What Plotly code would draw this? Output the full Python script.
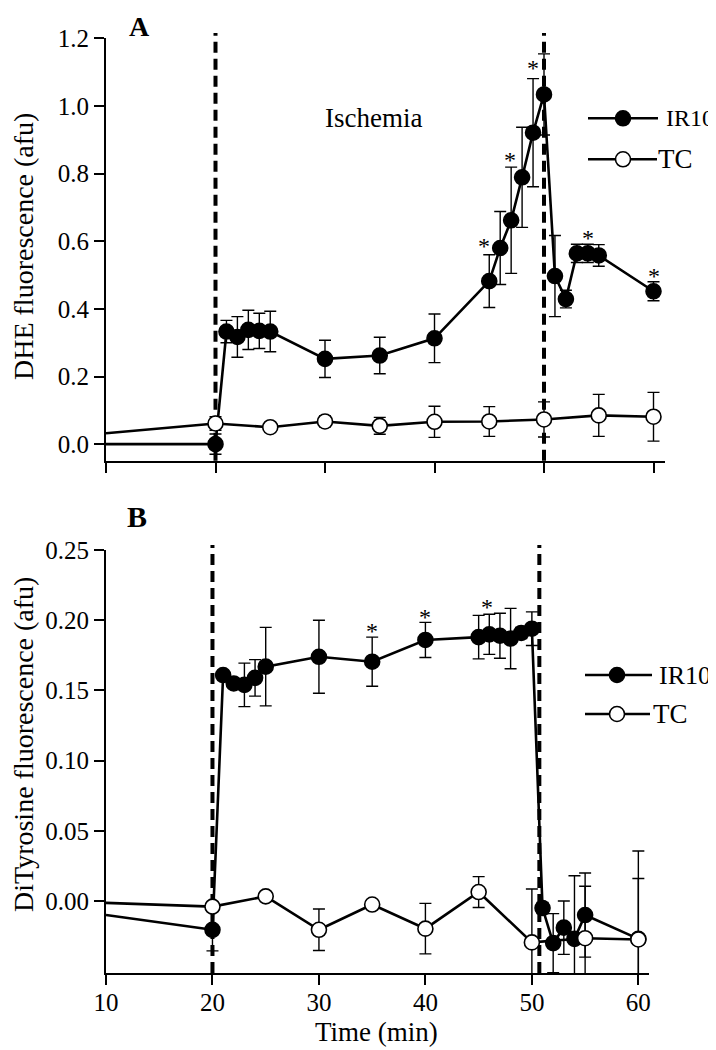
import plotly.graph_objects as go

# ---------------- data ----------------
# Panel A: DHE fluorescence
ir_a_x = [10, 20, 21, 22, 23, 24, 25, 30, 35, 40, 45, 46, 47, 48, 49, 50, 51, 52, 53, 54, 55, 60]
ir_a_y = [0.0, 0.0, 0.333, 0.317, 0.338, 0.335, 0.333, 0.252, 0.262, 0.313, 0.482, 0.580, 0.662,
          0.789, 0.921, 1.034, 0.497, 0.429, 0.564, 0.564, 0.558, 0.452]
ir_a_err = [0, 0.03, 0.033, 0.06, 0.058, 0.052, 0.06, 0.055, 0.054, 0.072, 0.078, 0.108, 0.157,
            0.148, 0.16, 0.12, 0.12, 0.026, 0.027, 0.027, 0.032, 0.028]
tc_a_x = [10, 20, 25, 30, 35, 40, 45, 50, 55, 60]
tc_a_y = [0.032, 0.061, 0.050, 0.067, 0.054, 0.066, 0.067, 0.073, 0.085, 0.081]
tc_a_err = [0, 0.02, 0.008, 0.016, 0.025, 0.046, 0.044, 0.052, 0.062, 0.072]
star_a_x = [44.5, 46.9, 49.0, 54.0, 60.0]
star_a_y = [0.598, 0.852, 1.124, 0.622, 0.509]
dash_a = [20, 50]

# Panel B: DiTyrosine fluorescence
ir_b_x = [10, 20, 21, 22, 23, 24, 25, 30, 35, 40, 45, 46, 47, 48, 49, 50, 51, 52, 53, 54, 55, 60]
ir_b_y = [-0.010, -0.0205, 0.161, 0.155, 0.154, 0.159, 0.167, 0.174, 0.1705, 0.186, 0.188, 0.190,
          0.189, 0.187, 0.191, 0.194, -0.005, -0.030, -0.019, -0.027, -0.010, -0.027]
ir_b_err = [0, 0.015, 0.003, 0.003, 0.0155, 0.013, 0.028, 0.026, 0.0175, 0.0125, 0.0155, 0.0143,
            0.016, 0.0215, 0.004, 0.012, 0.004, 0.021, 0.019, 0.045, 0.030, 0.043]
tc_b_x = [10, 20, 25, 30, 35, 40, 45, 50, 55, 60]
tc_b_y = [-0.0013, -0.004, 0.0033, -0.0205, -0.0025, -0.0197, 0.0064, -0.0295, -0.0265, -0.0274]
tc_b_err = [0, 0.003, 0.002, 0.0148, 0.002, 0.018, 0.011, 0.038, 0.037, 0.063]
star_b_x = [35, 40, 45.8]
star_b_y = [0.195, 0.205, 0.2123]
dash_b = [20, 50.7]

x_ticks = [10, 20, 30, 40, 50, 60]
ya_ticks = [0.0, 0.2, 0.4, 0.6, 0.8, 1.0, 1.2]
yb_ticks = [0.00, 0.05, 0.10, 0.15, 0.20, 0.25]

# ---------------- layout helpers ----------------
OFF = 8                      # page body margin
W, H = 716 - OFF, 1050 - OFF
FONT = "Liberation Serif, Times New Roman, Times, serif"


def px(x):
    return (x - OFF) / W


def py(y):
    return 1 - (y - OFF) / H


fig = go.Figure()

LW = 2.6
MS = 15
err_style = dict(type="data", thickness=1.4, width=6, color="black")


def add_series(xs, ys, errs, xa, ya, filled):
    # lead-in segment from the axis edge (no marker)
    fig.add_trace(go.Scatter(x=xs[:2], y=ys[:2], mode="lines", xaxis=xa, yaxis=ya,
                             line=dict(color="black", width=LW), showlegend=False,
                             hoverinfo="skip"))
    fig.add_trace(go.Scatter(
        x=xs[1:], y=ys[1:], mode="lines+markers", xaxis=xa, yaxis=ya,
        line=dict(color="black", width=LW),
        marker=dict(size=MS, color="black" if filled else "white",
                    line=dict(color="black", width=1.6)),
        error_y=dict(array=errs[1:], **err_style),
        showlegend=False, cliponaxis=False))


add_series(ir_a_x, ir_a_y, ir_a_err, "x", "y", True)
add_series(tc_a_x, tc_a_y, tc_a_err, "x", "y", False)
add_series(ir_b_x, ir_b_y, ir_b_err, "x2", "y2", True)
add_series(tc_b_x, tc_b_y, tc_b_err, "x2", "y2", False)

# plot areas (pixels in the page)
A_L, A_R, A_T, A_B = 106, 665, 38.3, 460.7
B_L, B_R, B_T, B_B = 106, 649, 550, 973

axis_common = dict(showline=True, linecolor="black", linewidth=2, ticks="outside",
                   ticklen=10, tickwidth=2, tickcolor="black", showgrid=False,
                   zeroline=False, automargin=False,
                   tickfont=dict(family=FONT, size=25, color="black"))

fig.update_layout(
    width=W, height=H, margin=dict(l=0, r=0, t=0, b=0),
    paper_bgcolor="white", plot_bgcolor="white",
    font=dict(family=FONT, color="black"),
    xaxis=dict(domain=[px(A_L), px(A_R)], range=[10, 61.05], anchor="y",
               tickvals=x_ticks, showticklabels=False, **axis_common),
    yaxis=dict(domain=[py(A_B), py(A_T)], range=[-0.049, 1.2001], anchor="x",
               tickvals=ya_ticks, ticktext=[f"{v:.1f}" for v in ya_ticks], **axis_common),
    xaxis2=dict(domain=[px(B_L), px(B_R)], range=[10, 61.0], anchor="y2",
                tickvals=x_ticks, ticktext=[str(v) for v in x_ticks],
                ticklabelstandoff=-4, **axis_common),
    yaxis2=dict(domain=[py(B_B), py(B_T)], range=[-0.0513, 0.2501], anchor="x2",
                tickvals=yb_ticks, ticktext=[f"{v:.2f}" for v in yb_ticks], **axis_common),
)

shapes = []
for xv in dash_a:
    shapes.append(dict(type="line", xref="x", yref="paper", x0=xv, x1=xv,
                       y0=py(A_B), y1=py(33), layer="below",
                       line=dict(color="black", width=4, dash="11px,6px")))
for xv in dash_b:
    shapes.append(dict(type="line", xref="x2", yref="paper", x0=xv, x1=xv,
                       y0=py(B_B), y1=py(545), layer="below",
                       line=dict(color="black", width=4, dash="11px,6px")))

annotations = []

# significance asterisks
for xs, ys, xr, yr in [(star_a_x, star_a_y, "x", "y"), (star_b_x, star_b_y, "x2", "y2")]:
    for xv, yv in zip(xs, ys):
        annotations.append(dict(xref=xr, yref=yr, x=xv, y=yv, text="*", showarrow=False,
                                xanchor="center", yanchor="middle", yshift=-4,
                                font=dict(family=FONT, size=24, color="black")))


def legend_item(x0, x1, xc, yc, filled, label, tx, size=27):
    shapes.append(dict(type="line", xref="paper", yref="paper", x0=px(x0), x1=px(x1),
                       y0=py(yc), y1=py(yc), line=dict(color="black", width=LW)))
    r = MS / 2
    shapes.append(dict(type="circle", xref="paper", yref="paper",
                       x0=px(xc - r), x1=px(xc + r), y0=py(yc + r), y1=py(yc - r),
                       fillcolor="black" if filled else "white",
                       line=dict(color="black", width=1.6)))
    annotations.append(dict(xref="paper", yref="paper", x=px(tx), y=py(yc), text=label,
                            showarrow=False, xanchor="left", yanchor="middle",
                            font=dict(family=FONT, size=size, color="black")))


legend_item(588, 658, 623, 118.3, True, "IR10", 664, size=24)
legend_item(588, 657, 623, 159.3, False, "TC", 656)
legend_item(585, 652, 617, 675, True, "IR10", 657, size=26)
legend_item(585, 650, 617, 714, False, "TC", 651)


def text(x, y, s, size, bold=False, angle=0):
    annotations.append(dict(xref="paper", yref="paper", x=px(x), y=py(y),
                            text=f"<b>{s}</b>" if bold else s, showarrow=False,
                            xanchor="center", yanchor="middle", textangle=angle,
                            borderpad=0,
                            font=dict(family=FONT, size=size, color="black")))


text(139, 26, "A", 28, bold=True)
text(137, 516, "B", 30, bold=True)
text(374, 118, "Ischemia", 27)
text(23, 247, "DHE fluorescence (afu)", 28, angle=-90)
text(23, 745, "DiTyrosine fluorescence (afu)", 28, angle=-90)
text(376, 1032, "Time (min)", 27)

fig.update_layout(shapes=shapes, annotations=annotations)

fig.write_html("out.html")
